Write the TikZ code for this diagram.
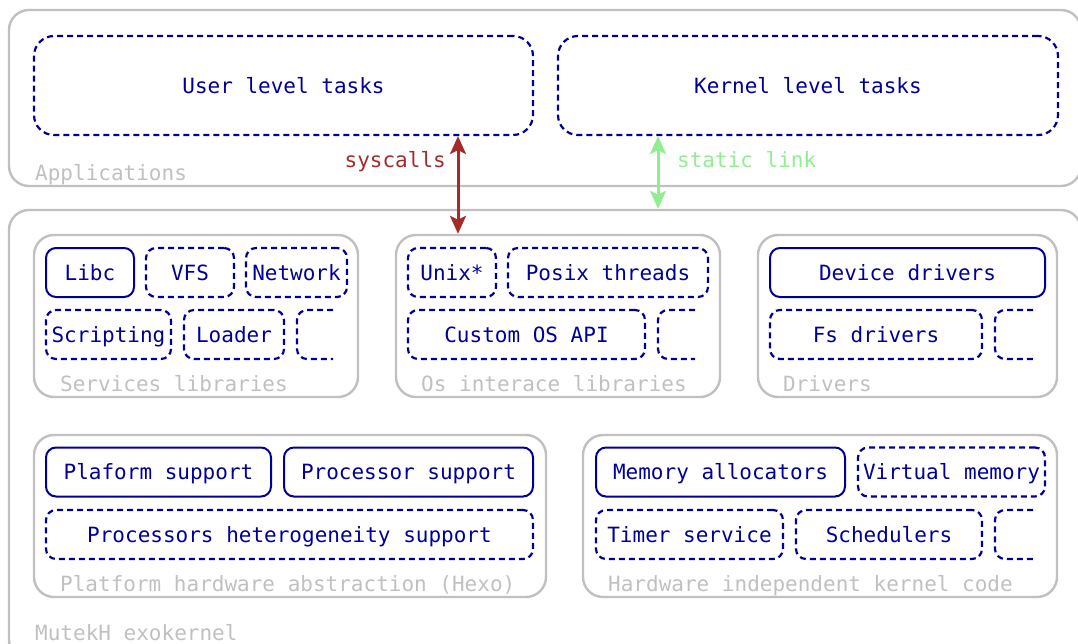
\documentclass[tikz,border=0pt]{standalone}
\usepackage{fontspec}
\setmonofont{DejaVu Sans Mono}
\usetikzlibrary{arrows.meta}
\definecolor{navyc}{RGB}{0,0,153}
\definecolor{grayc}{RGB}{192,192,192}
\definecolor{brownc}{RGB}{165,42,42}
\definecolor{greenc}{RGB}{144,238,144}
\tikzset{
  x=1pt, y=-1pt,
  every node/.style={font=\fontsize{21}{25}\selectfont\ttfamily},
  group/.style={draw=grayc, line width=2.4pt, rounded corners=20pt, inner sep=0pt},
  glabel/.style={text=grayc, inner sep=0pt, anchor=base west},
  task/.style={draw=navyc, text=navyc, line width=2.2pt, dash pattern=on 6pt off 4pt, rounded corners=20pt, inner sep=0pt, text height=15pt, text depth=0pt},
  itemsolid/.style={draw=navyc, text=navyc, line width=2pt, rounded corners=10pt, inner sep=0pt, minimum height=49pt, text height=15pt, text depth=0pt},
  itemdash/.style={itemsolid, line width=2.2pt, dash pattern=on 6pt off 4pt},
  partial/.style={draw=navyc, line width=2.2pt, dash pattern=on 6pt off 4pt, rounded corners=10pt},
  tipx/.tip={Stealth[length=18pt,width=16pt,inset=4pt]},
  link/.style={line width=3pt, tipx-tipx},
}
\begin{document}
\begin{tikzpicture}
\useasboundingbox (0,0) rectangle (1078,643);
\clip (0,0) rectangle (1078,643);
% outer containers
\node[group, minimum width=1072pt, minimum height=176pt] (apps) at (545,98) {};
\node[glabel] (appsl) at (35,180) {Applications};
\node[group, minimum width=1072pt, minimum height=450pt] (mutekh) at (545,435) {};
\node[glabel] (mutekhl) at (35,640) {MutekH exokernel};
% tasks
\node[task, minimum width=499pt, minimum height=99pt] (user) at (283.5,85.5) {User level tasks};
\node[task, minimum width=500pt, minimum height=99pt] (kern) at (808,85.5) {Kernel level tasks};
% Services libraries
\node[group, minimum width=324pt, minimum height=162pt] (serv) at (196,316) {};
\node[glabel] (servl) at (60,391) {Services libraries};
\node[itemsolid, minimum width=88pt] (libc) at (90,272.5) {Libc};
\node[itemdash, minimum width=88pt] (vfs) at (190,272.5) {VFS};
\node[itemdash, minimum width=101pt] (net) at (296.5,272.5) {Network};
\node[itemdash, minimum width=125pt] (script) at (108.5,334.5) {Scripting};
\node[itemdash, minimum width=100pt] (loader) at (234,334.5) {Loader};
\draw[partial] (333,310) -- (297,310) -- (297,359) -- (333,359);
% Os interface libraries
\node[group, minimum width=324pt, minimum height=162pt] (osif) at (558,316) {};
\node[glabel] (osifl) at (421,391) {Os interace libraries};
\node[itemdash, minimum width=88pt] (unix) at (452,272.5) {Unix*};
\node[itemdash, minimum width=200pt] (posix) at (608,272.5) {Posix threads};
\node[itemdash, minimum width=237pt] (custom) at (526.5,334.5) {Custom OS API};
\draw[partial] (695,310) -- (658,310) -- (658,359) -- (695,359);
% Drivers
\node[group, minimum width=299pt, minimum height=162pt] (drv) at (907.5,316) {};
\node[glabel] (drvl) at (783,391) {Drivers};
\node[itemsolid, minimum width=275pt] (devdrv) at (907.5,272.5) {Device drivers};
\node[itemdash, minimum width=212pt] (fsdrv) at (876,334.5) {Fs drivers};
\draw[partial] (1033,310) -- (995,310) -- (995,359) -- (1033,359);
% Platform hardware abstraction
\node[group, minimum width=512pt, minimum height=162pt] (hexo) at (290,516) {};
\node[glabel] (hexol) at (60,591) {Platform hardware abstraction (Hexo)};
\node[itemsolid, minimum width=225pt] (plat) at (158.5,472) {Plaform support};
\node[itemsolid, minimum width=249pt] (proc) at (408.5,472) {Processor support};
\node[itemdash, minimum width=487pt] (hetero) at (289.5,534.5) {Processors heterogeneity support};
% Hardware independent kernel code
\node[group, minimum width=474pt, minimum height=162pt] (hik) at (820,516) {};
\node[glabel] (hikl) at (608,591) {Hardware independent kernel code};
\node[itemsolid, minimum width=249pt] (memalloc) at (720.5,472) {Memory allocators};
\node[itemdash, minimum width=187pt] (vmem) at (951.5,472) {Virtual memory};
\node[itemdash, minimum width=187pt] (timer) at (689.5,534.5) {Timer service};
\node[itemdash, minimum width=186pt] (sched) at (889,534.5) {Schedulers};
\draw[partial] (1033,510) -- (995,510) -- (995,559) -- (1033,559);
% connectors
\coordinate (scx) at (458,0);
\coordinate (slx) at (658,0);
\draw[link, draw=brownc, fill=brownc] (user.south -| scx) -- (osif.north -| scx);
\draw[link, draw=greenc, fill=greenc] (kern.south -| slx) -- (mutekh.north -| slx);
\node[text=brownc, inner sep=0pt, anchor=base east] (scl) at (446,167) {syscalls};
\node[text=greenc, inner sep=0pt, anchor=base west] (sll) at (677,167) {static link};
\end{tikzpicture}
\end{document}
